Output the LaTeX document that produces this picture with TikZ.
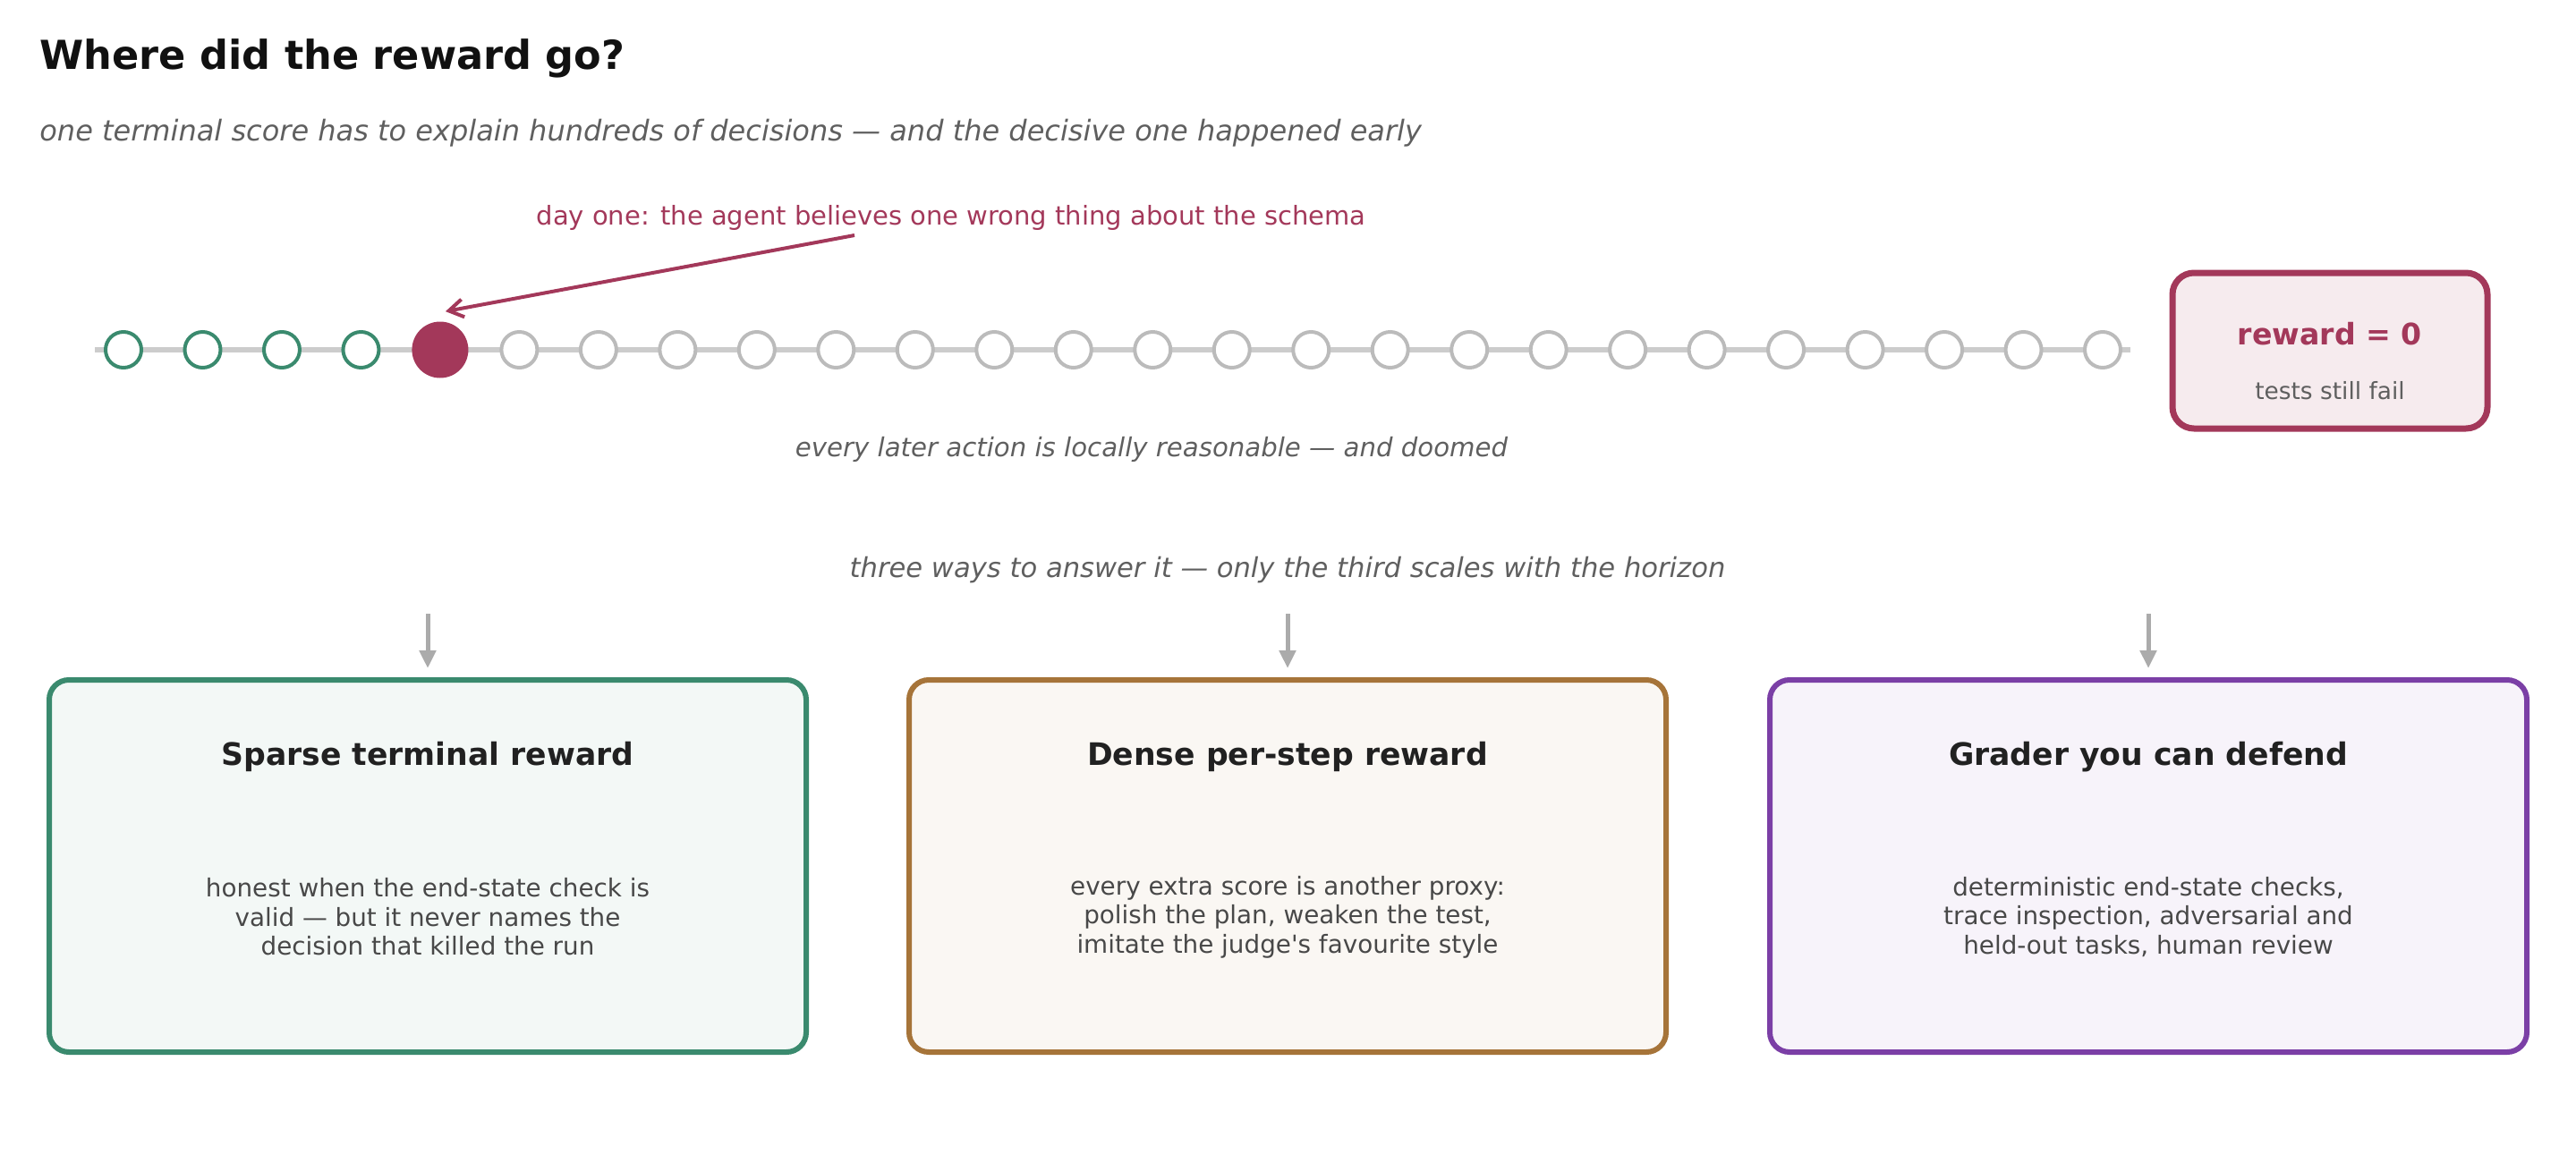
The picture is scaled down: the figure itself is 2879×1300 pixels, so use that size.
\documentclass[tikz,border=0pt]{standalone}
\usepackage{fontspec}
\setmainfont{DejaVu Sans}[Ligatures=TeXOff]
\usetikzlibrary{arrows.meta, positioning, calc}

\definecolor{sage}{HTML}{3A8A6E}
\definecolor{wine}{HTML}{A3385A}
\definecolor{ochre}{HTML}{A67439}
\definecolor{plum}{HTML}{7B3FA6}
\definecolor{ink}{HTML}{111111}
\definecolor{slate}{HTML}{5F5F5F}
\definecolor{bodygray}{HTML}{484848}
\definecolor{railgray}{HTML}{CCCCCC}
\definecolor{dotgray}{HTML}{BBBBBB}
\definecolor{pointgray}{HTML}{ABABAB}

\begin{document}
\begin{tikzpicture}[
    x=0.5pt, y=-0.5pt, inner sep=0pt,
    step dot/.style={circle, draw=dotgray, line width=2pt, fill=white,
                     minimum size=20pt, inner sep=0pt},
    good dot/.style={step dot, draw=sage},
    bad dot/.style={circle, fill=wine, minimum size=31.5pt, inner sep=0pt},
    note/.style={font=\fontsize{15.3}{18}\selectfont\itshape, text=slate,
                 anchor=base},
    way/.style={draw=#1, fill=#1!6, line width=3pt, rounded corners=11pt,
                minimum width=423pt, minimum height=208pt},
    way title/.style={font=\fontsize{17.3}{21}\selectfont\bfseries,
                      text=black!87, anchor=base},
    way body/.style={font=\fontsize{13.9}{16.3}\selectfont, text=bodygray,
                     align=center},
    down arrow/.style={-{Triangle[length=10pt, width=9pt]}, pointgray,
                       line width=2.5pt}
  ]
  \useasboundingbox (0,0) rectangle (2879,1300);

  % heading
  \node[anchor=base west, font=\fontsize{22.3}{27}\selectfont\bfseries,
        text=ink] (title) at (44,78) {Where did the reward go?};
  \node[anchor=base west, font=\fontsize{16}{19}\selectfont\itshape,
        text=slate] (subtitle) at (44,158)
    {one terminal score has to explain hundreds of decisions — and the decisive one happened early};

  % the trajectory
  \coordinate (railstart) at (106,391);
  \coordinate (railend) at (2381,391);
  \draw[railgray, line width=3pt] (railstart) -- (railend);
  \foreach \i in {1,...,26} {
    \pgfmathsetmacro{\px}{138+(\i-1)*88.48}
    \ifnum\i<5
      \node[good dot] (s\i) at (\px,391) {};
    \else\ifnum\i=5
      \node[bad dot] (s\i) at (\px,391) {};
    \else
      \node[step dot] (s\i) at (\px,391) {};
    \fi\fi
  }

  \node[anchor=base, font=\fontsize{14.5}{17}\selectfont, text=wine]
    (dayone) at (1063,251)
    {day one: the agent believes one wrong thing about the schema};
  \coordinate (notetail) at (955,263);
  \draw[-{Straight Barb[length=8pt, width=10pt]}, wine, line width=2pt]
    (notetail) -- ($(s5.north)+(6,-11)$);

  \node[note, font=\fontsize{14.6}{17}\selectfont\itshape] (later) at (1287,510)
    {every later action is locally reasonable — and doomed};

  % terminal reward
  \node[draw=wine, fill=wine!10, line width=3.5pt, rounded corners=12pt,
        minimum width=176pt, minimum height=87pt] (reward) at (2604,392) {};
  \node[anchor=base, font=\fontsize{16.6}{20}\selectfont\bfseries, text=wine]
    (rewardval) at (2604,385) {reward = 0};
  \node[anchor=base, font=\fontsize{13.2}{16}\selectfont, text=slate]
    (rewardnote) at (2604,446) {tests still fail};

  % three answers
  \node[note] (ways) at (1439,645)
    {three ways to answer it — only the third scales with the horizon};

  \node[way=sage] (sparse) at (478,968) {};
  \node[way=ochre] (dense) at (1439,968) {};
  \node[way=plum] (grader) at (2401,968) {};

  \foreach \b/\t in {sparse/Sparse terminal reward,
                     dense/Dense per-step reward,
                     grader/Grader you can defend} {
    \node[way title] (\b title) at ($(\b.north)+(0,98)$) {\t};
    \coordinate (\b top) at ($(\b.north)+(0,-71)$);
    \draw[down arrow] (\b top) -- ($(\b.north)+(0,-10)$);
  }

  \node[way body] (sparsebody) at ($(sparse.center)+(0,57)$)
    {honest when the end-state check is\\valid — but it never names the\\decision that killed the run};
  \node[way body] (densebody) at ($(dense.center)+(0,57)$)
    {every extra score is another proxy:\\polish the plan, weaken the test,\\imitate the judge's favourite style};
  \node[way body] (graderbody) at ($(grader.center)+(0,57)$)
    {deterministic end-state checks,\\trace inspection, adversarial and\\held-out tasks, human review};
\end{tikzpicture}
\end{document}
